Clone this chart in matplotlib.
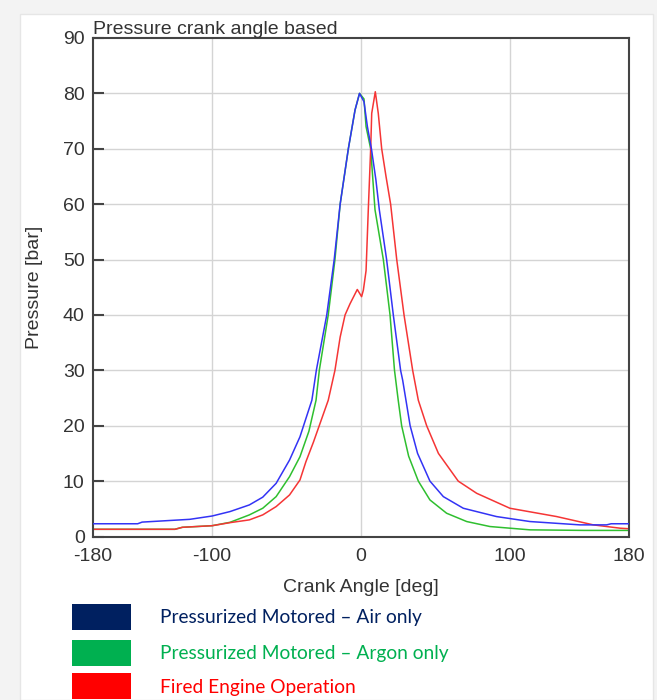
import matplotlib
matplotlib.use('Agg')
import matplotlib.pyplot as plt
from matplotlib.patches import Rectangle

# crank angle [deg] / pressure [bar]
air_deg = [-180, -150, -147, -115, -100, -88, -75, -66, -57, -48, -41, -33, -30, -23, -18,
           -14, -8.5, -4, -1, 2, 4.3, 7, 10, 12.3, 17.2, 21.7, 26.6, 28, 30.2, 33, 38, 46.3,
           55.3, 68.7, 91, 113.5, 147, 165, 168, 180]
air_bar = [2.3, 2.3, 2.6, 3.1, 3.7, 4.5, 5.7, 7.1, 9.6, 13.8, 18.0, 24.6, 30, 40, 50,
           60, 70, 77, 80, 78.5, 74, 70, 64.4, 59, 50, 40, 30, 28.2, 24.6, 20, 15, 10,
           7.2, 5.1, 3.6, 2.7, 2.1, 2.1, 2.3, 2.3]

argon_deg = [-180, -125, -120, -100, -88, -75, -66, -57, -48, -41, -35, -30.2, -28, -22, -17.5,
             -14, -8.5, -4, -1, 2, 3.4, 6.5, 9.4, 15, 19.5, 22.5, 25, 27.3, 32, 38.5, 46.3,
             57.5, 71, 86.6, 113.5, 150, 180]
argon_bar = [1.3, 1.3, 1.66, 1.95, 2.56, 3.9, 5.1, 7.2, 10.8, 14.4, 19, 24.6, 30, 40, 50,
             60, 70, 77, 80, 79, 74, 70, 59, 50, 40, 30, 24.6, 20, 14.5, 10, 6.6,
             4.2, 2.7, 1.8, 1.2, 1.1, 1.1]

fired_deg = [-180, -125, -120, -100, -88, -75, -66, -57, -48, -41, -37, -32, -22, -17.5, -14,
             -10.7, -7.4, -2.5, 0.4, 1.6, 3.4, 4.9, 6.5, 7.2, 9.6, 11.6, 13.9, 16.8, 19.9,
             24, 28.9, 34.7, 38.5, 44.1, 52, 65.3, 77.7, 100, 131.4, 156, 174, 180]
fired_bar = [1.3, 1.3, 1.66, 1.95, 2.5, 3.0, 3.9, 5.4, 7.5, 10.2, 13.5, 17, 24.6, 30, 36,
             40, 42, 44.6, 43.3, 44.5, 48, 59, 70, 76.4, 80.3, 76.4, 70, 65, 60,
             50, 40, 30, 24.6, 20, 15, 10, 7.8, 5.1, 3.6, 2.1, 1.5, 1.4]

x_ticks = [-180, -100, 0, 100, 180]
y_ticks = [0, 10, 20, 30, 40, 50, 60, 70, 80, 90]
grid_x = [-100, 0, 100]

legend_labels = ['Pressurized Motored \u2013 Air only',
                 'Pressurized Motored \u2013 Argon only',
                 'Fired Engine Operation']
legend_colors = ['#002060', '#00b050', '#ff0000']

plt.rcParams['font.family'] = ['Liberation Sans', 'DejaVu Sans']
plt.rcParams['axes.unicode_minus'] = False

fig = plt.figure(figsize=(6.57, 7.0), dpi=100)
fig.patch.set_facecolor('#f3f3f3')
# white card behind everything
fig.patches.append(Rectangle((20 / 657, 0), 633 / 657, 1 - 14 / 700,
                             transform=fig.transFigure, facecolor='white',
                             edgecolor='#e6e6e6', lw=1.0, zorder=-5))

ax = fig.add_axes([93 / 657, 1 - 536.5 / 700, 536 / 657, 498.5 / 700])
ax.set_zorder(2)
ax.set_facecolor('white')

ax.plot(air_deg, air_bar, color='#3333f5', lw=1.1, zorder=3)
ax.plot(argon_deg, argon_bar, color='#2fbf2f', lw=1.1, zorder=2)
ax.plot(fired_deg, fired_bar, color='#f53535', lw=1.1, zorder=2)

ax.set_xlim(-180, 180)
ax.set_ylim(0, 90)
ax.set_xticks(x_ticks)
ax.set_yticks(y_ticks)
ax.tick_params(axis='y', direction='in', length=8, width=1.5, color='#444444',
               labelsize=14, labelcolor='#333333', pad=6)
ax.tick_params(axis='x', length=0, labelsize=14, labelcolor='#333333', pad=8)

for y in y_ticks[1:-1]:
    ax.axhline(y, color='#d4d4d4', lw=1.0, zorder=1)
for x in grid_x:
    ax.axvline(x, color='#d4d4d4', lw=1.0, zorder=1)

for s in ax.spines.values():
    s.set_color('#444444')
    s.set_linewidth(1.5)

ax.set_title('Pressure crank angle based', loc='left', fontsize=14, color='#333333', pad=1)
ax.set_ylabel('Pressure [bar]', fontsize=14, color='#333333', labelpad=14)
ax.set_xlabel('Crank Angle [deg]', fontsize=14, color='#333333', labelpad=10)

# legend as coloured boxes below the chart
box_tops = [604, 640, 673]
for top, lab, col in zip(box_tops, legend_labels, legend_colors):
    fig.patches.append(Rectangle((72 / 657, 1 - (top + 26) / 700), 59 / 657, 26 / 700,
                                 transform=fig.transFigure, facecolor=col,
                                 edgecolor='none', zorder=2))
    fig.text(160 / 657, 1 - (top + 14) / 700, lab, color=col, fontsize=13.8,
             family=['Lato', 'DejaVu Sans'], va='center', ha='left')

fig.savefig('out.png', dpi=100, facecolor=fig.get_facecolor())
